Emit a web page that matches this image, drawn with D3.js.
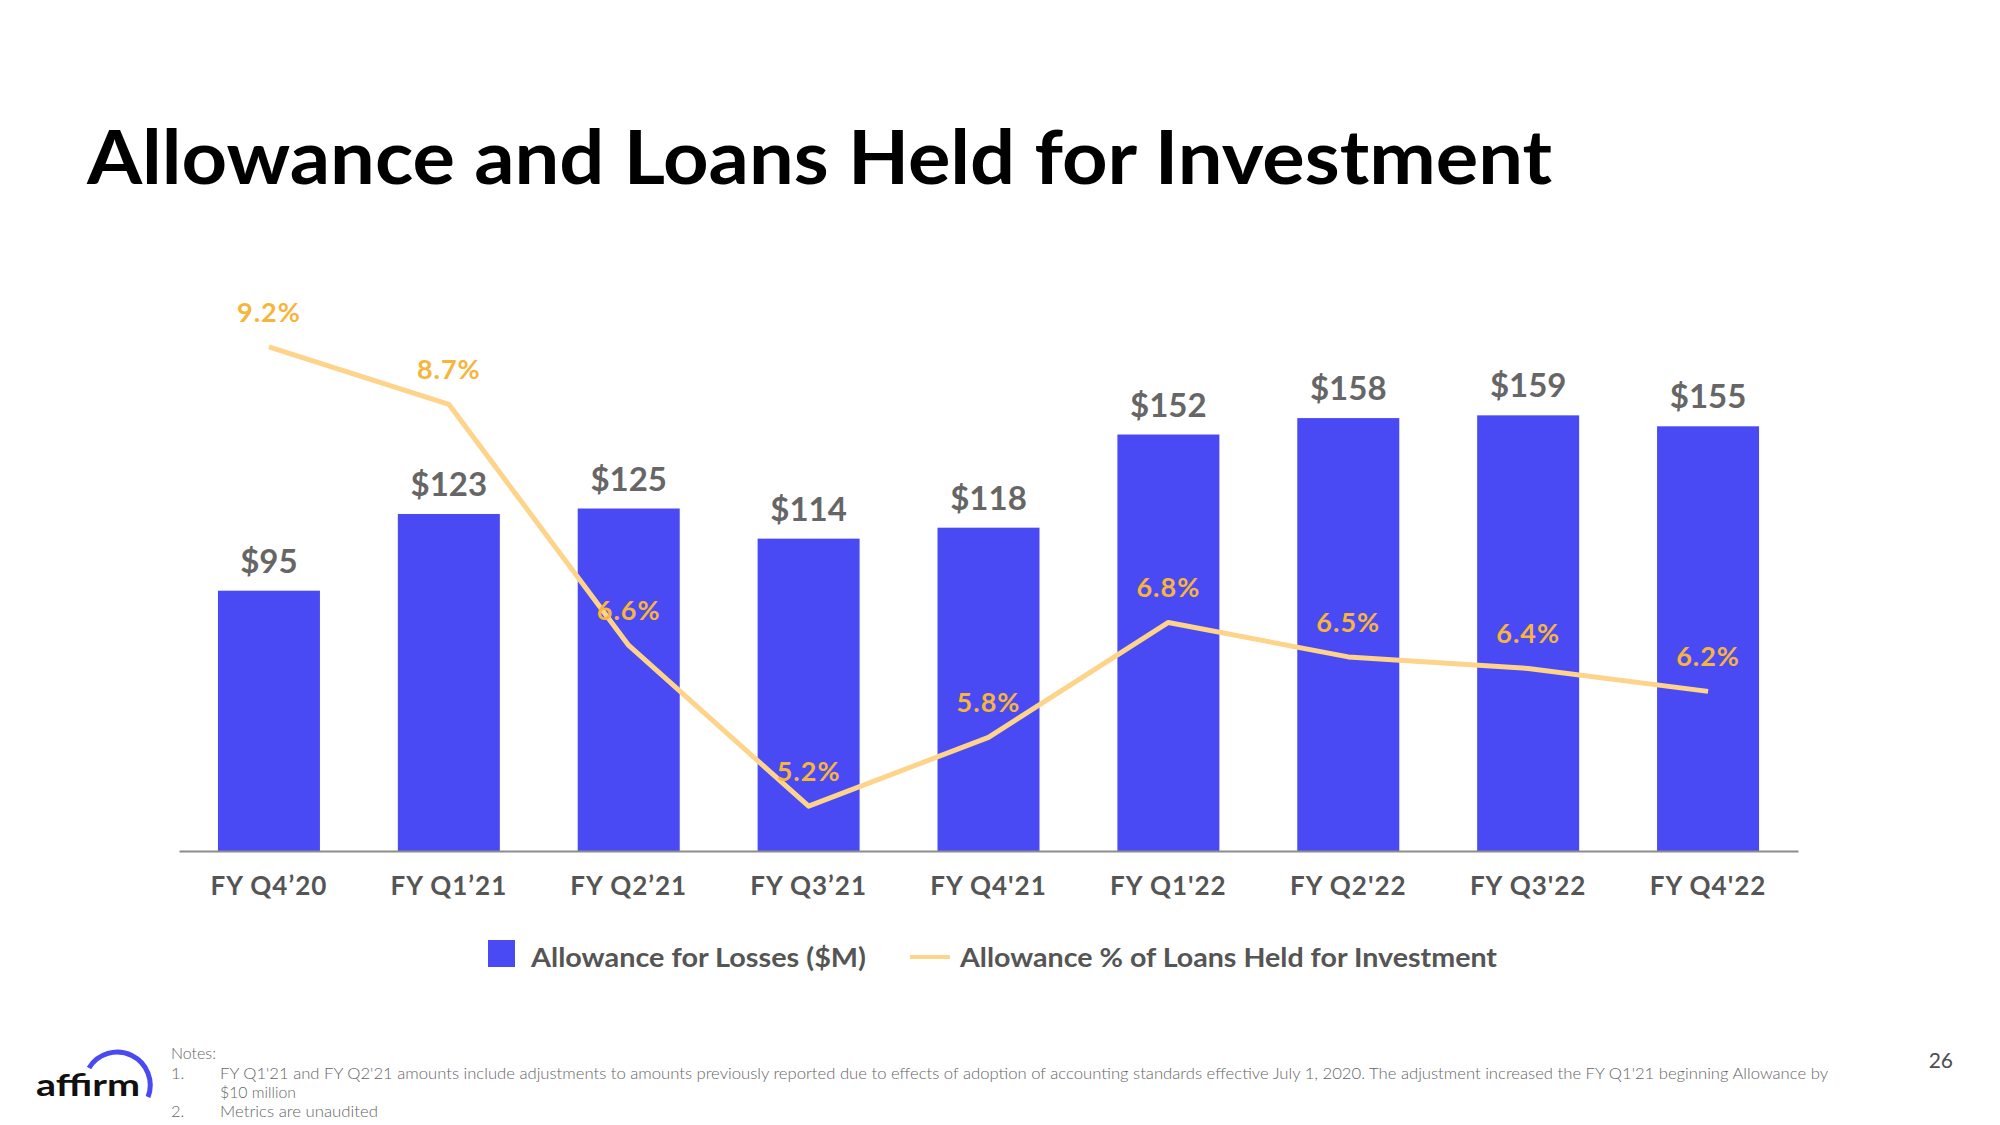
<!DOCTYPE html>
<html>
<head>
<meta charset="utf-8">
<script src="https://cdn.jsdelivr.net/npm/d3@7"></script>
<style>
  html, body { margin: 0; padding: 0; background: #fff; }
  svg { display: block; }
  text { font-family: Lato, "Noto Sans", "DejaVu Sans", sans-serif; }
</style>
</head>
<body>
<svg id="chart" width="2000" height="1125"></svg>
<script>
// ---- data ----
const categories = ["FY Q4\u201920", "FY Q1\u201921", "FY Q2\u201921", "FY Q3\u201921", "FY Q4'21", "FY Q1'22", "FY Q2'22", "FY Q3'22", "FY Q4'22"];
const allowance = [95, 123, 125, 114, 118, 152, 158, 159, 155];
const allowancePct = [9.2, 8.7, 6.6, 5.2, 5.8, 6.8, 6.5, 6.4, 6.2];
const barLabels = allowance.map(v => "$" + v);
const pctLabels = allowancePct.map(v => v.toFixed(1) + "%");
const legendLabels = ["Allowance for Losses ($M)", "Allowance % of Loans Held for Investment"];
const title = "Allowance and Loans Held for Investment";
const notes = [
  "FY Q1'21 and FY Q2'21 amounts include adjustments to amounts previously reported due to effects of adoption of accounting standards effective July 1, 2020. The adjustment increased the FY Q1'21 beginning Allowance by",
  "$10 million",
  "Metrics are unaudited"
];

// ---- style ----
const BAR = "#4a4af4";
const LINE = "#fdd48a";
const PCT = "#f6b53c";
const GRAY = "#666666";
const AXIS_TXT = "#555555";

const svg = d3.select("#chart");
svg.append("rect").attr("width", 2000).attr("height", 1125).attr("fill", "#fff");

// title
svg.append("text")
  .attr("x", 87).attr("y", 184)
  .attr("font-size", 75).attr("font-weight", 700).attr("fill", "#000")
  .attr("textLength", 1465).attr("lengthAdjust", "spacingAndGlyphs")
  .text(title);

// scales
const x = d3.scaleBand().domain(categories).range([179, 1798])
  .paddingInner(0.433).paddingOuter(0.2165);
const y = d3.scaleLinear().domain([0, 200]).range([851, 303]);
const yP = d3.scaleLinear().domain([4, 10]).range([944, 255]);

// bars
svg.append("g").selectAll("rect").data(allowance).join("rect")
  .attr("x", (d, i) => x(categories[i]))
  .attr("y", d => y(d))
  .attr("width", x.bandwidth())
  .attr("height", d => y(0) - y(d))
  .attr("fill", BAR);

// x axis
const ax = svg.append("g").attr("transform", `translate(0,${y(0)})`)
  .call(d3.axisBottom(x).tickSize(0).tickSizeOuter(0));
ax.select(".domain").attr("stroke", "#8c8c8c").attr("stroke-width", 2);
ax.selectAll("text")
  .attr("y", 44).attr("dy", 0)
  .attr("font-family", "Lato, 'Noto Sans', sans-serif")
  .attr("font-size", 26).attr("font-weight", 700).attr("fill", AXIS_TXT)
  .attr("letter-spacing", 1);

// bar labels
svg.append("g").selectAll("text").data(allowance).join("text")
  .attr("x", (d, i) => x(categories[i]) + x.bandwidth() / 2)
  .attr("y", d => y(d) - 18)
  .attr("text-anchor", "middle")
  .attr("font-size", 33).attr("font-weight", 700).attr("fill", GRAY)
  .text((d, i) => barLabels[i]);

// line
const line = d3.line()
  .x((d, i) => x(categories[i]) + x.bandwidth() / 2)
  .y(d => yP(d));
svg.append("path").datum(allowancePct)
  .attr("d", line)
  .attr("fill", "none").attr("stroke", LINE).attr("stroke-width", 5)
  .attr("stroke-linejoin", "round");

// pct labels
svg.append("g").selectAll("text").data(allowancePct).join("text")
  .attr("x", (d, i) => x(categories[i]) + x.bandwidth() / 2)
  .attr("y", d => yP(d) - 25)
  .attr("text-anchor", "middle")
  .attr("font-size", 27).attr("font-weight", 700).attr("fill", PCT)
  .attr("letter-spacing", 1)
  .text((d, i) => pctLabels[i]);

// legend
const lg = svg.append("g");
lg.append("rect").attr("x", 488).attr("y", 940).attr("width", 27).attr("height", 27).attr("fill", BAR);
lg.append("text").attr("x", 531).attr("y", 967)
  .attr("font-size", 27).attr("font-weight", 700).attr("fill", AXIS_TXT)
  .attr("textLength", 335).attr("lengthAdjust", "spacingAndGlyphs")
  .text(legendLabels[0]);
lg.append("line").attr("x1", 910).attr("x2", 950).attr("y1", 957).attr("y2", 957)
  .attr("stroke", LINE).attr("stroke-width", 4);
lg.append("text").attr("x", 960).attr("y", 967)
  .attr("font-size", 27).attr("font-weight", 700).attr("fill", AXIS_TXT)
  .attr("textLength", 537).attr("lengthAdjust", "spacingAndGlyphs")
  .text(legendLabels[1]);

// notes
const nt = svg.append("g").attr("fill", "#666").attr("font-size", 16.5).attr("font-weight", 300);
nt.append("text").attr("x", 171).attr("y", 1059)
  .attr("textLength", 45).attr("lengthAdjust", "spacingAndGlyphs").text("Notes:");
nt.append("text").attr("x", 171).attr("y", 1079).text("1.");
nt.append("text").attr("x", 220).attr("y", 1079)
  .attr("textLength", 1608).attr("lengthAdjust", "spacingAndGlyphs").text(notes[0]);
nt.append("text").attr("x", 220).attr("y", 1098)
  .attr("textLength", 76).attr("lengthAdjust", "spacingAndGlyphs").text(notes[1]);
nt.append("text").attr("x", 171).attr("y", 1117).text("2.");
nt.append("text").attr("x", 220).attr("y", 1117)
  .attr("textLength", 158).attr("lengthAdjust", "spacingAndGlyphs").text(notes[2]);

// page number
svg.append("text").attr("x", 1953).attr("y", 1068).attr("text-anchor", "end")
  .attr("font-size", 21).attr("fill", "#4d4d4d").text("26");

// logo
svg.append("path")
  .attr("d", "M 89 1068 A 33 33 0 0 1 148 1097")
  .attr("fill", "none").attr("stroke", BAR).attr("stroke-width", 5);
svg.append("text").attr("x", 36).attr("y", 1096)
  .attr("font-size", 31).attr("font-weight", 700).attr("fill", "#101010")
  .attr("textLength", 104).attr("lengthAdjust", "spacingAndGlyphs")
  .text("affirm");
</script>
</body>
</html>
